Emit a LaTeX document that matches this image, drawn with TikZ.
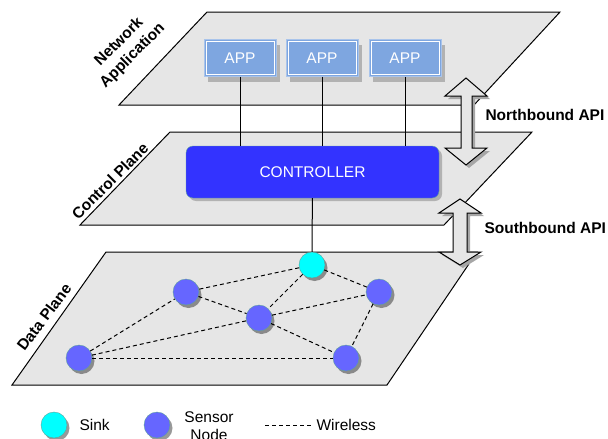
\documentclass[tikz,border=0pt]{standalone}
\usepackage{fontspec}
\setmainfont{Liberation Sans}
\usetikzlibrary{shadows}

\definecolor{planegray}{HTML}{E6E6E6}
\definecolor{appblue}{HTML}{7EA6E0}
\definecolor{appedge}{HTML}{A9C4EB}
\definecolor{ctrlblue}{HTML}{3333FF}
\definecolor{nodeblue}{HTML}{6666FF}
\definecolor{sinkcyan}{HTML}{00FFFF}
\definecolor{rim}{HTML}{5FA39B}

\begin{document}
\begin{tikzpicture}[x=1pt, y=-1pt, font=\fontsize{15.5}{18}\selectfont,
  plane/.style={fill=planegray, draw=black, line width=1pt},
  tag/.style={font=\fontsize{15.5}{19}\selectfont\bfseries, align=center},
  app/.style={draw=appedge, fill=appblue, text=white, line width=0.8pt,
    minimum width=72pt, minimum height=37pt,
    drop shadow={shadow xshift=4pt, shadow yshift=-5pt, fill=black!30, opacity=1},
    path picture={\draw[white, line width=0.8pt]
      ([shift={(2pt,-2pt)}]path picture bounding box.north west) rectangle
      ([shift={(-2pt,2pt)}]path picture bounding box.south east);}},
  ctrl/.style={draw=rim, fill=ctrlblue, text=white, rounded corners=7pt,
    minimum width=253pt, minimum height=52pt,
    drop shadow={shadow xshift=3pt, shadow yshift=-3pt, fill=black!30, opacity=1}},
  sensor/.style={circle, draw=rim, fill=nodeblue, minimum size=26pt, inner sep=0pt,
    drop shadow={shadow xshift=2.5pt, shadow yshift=-3pt, fill=black, opacity=0.4}},
  sink/.style={sensor, fill=sinkcyan},
  wireless/.style={dash pattern=on 4pt off 3pt, line width=1pt},
  api/.style={fill=planegray, draw=black, line width=1pt,
    drop shadow={shadow xshift=3pt, shadow yshift=-3pt, fill=black!35, opacity=1}}]
  \useasboundingbox (0,0) rectangle (608,439);

  % the three planes
  \draw[plane] (207,12) -- (560,12) -- (474,105) -- (119,105) -- cycle;
  \draw[plane] (170,132) -- (532,132) -- (444,225) -- (80,225) -- cycle;
  \draw[plane] (106,252) -- (477,252) -- (387,385) -- (12,385) -- cycle;

  \node[tag, rotate=45] (applabel) at (126,49) {Network\\Application};
  \node[tag, rotate=45] (ctrllabel) at (110,181) {Control Plane};
  \node[tag, rotate=53] (datalabel) at (44,317) {Data Plane};

  % applications and controller
  \node[app] (app1) at (240,58) {APP};
  \node[app] (app2) at (322,58) {APP};
  \node[app] (app3) at (405,58) {APP};
  \node[ctrl] (ctrl) at (312.5,172) {CONTROLLER};
  \draw[line width=1pt] (app1) -- (app1 |- ctrl.north);
  \draw[line width=1pt] (app2) -- (app2 |- ctrl.north);
  \draw[line width=1pt] (app3) -- (app3 |- ctrl.north);

  % sensor network
  \node[sink] (sink) at (312,265) {};
  \node[sensor] (n1) at (186,292) {};
  \node[sensor] (n2) at (259,318) {};
  \node[sensor] (n3) at (379,292) {};
  \node[sensor] (n4) at (79,358) {};
  \node[sensor] (n5) at (346,358) {};
  \draw[line width=1pt] (ctrl) -- (sink);
  \draw[wireless] (sink) -- (n1);
  \draw[wireless] (sink) -- (n2);
  \draw[wireless] (sink) -- (n3);
  \draw[wireless] (n1) -- (n2);
  \draw[wireless] (n2) -- (n3);
  \draw[wireless] (n2) -- (n5);
  \draw[wireless] (n3) -- (n5);
  \draw[wireless] (n4) -- (n1);
  \draw[wireless] (n4) -- (n2);
  \draw[wireless] (n4) -- (n5);

  % north- and southbound interfaces
  \draw[api] (466,78) -- (487,96) -- (472,96) -- (472,148) -- (487,148) -- (466,165)
    -- (445,148) -- (461,148) -- (461,96) -- (445,96) -- cycle;
  \draw[api] (460,199) -- (481,213) -- (467,213) -- (467,252) -- (481,252) -- (460,265)
    -- (439,252) -- (453,252) -- (453,213) -- (439,213) -- cycle;
  \node[tag, anchor=west] (north) at (482,115) {Northbound API};
  \node[tag, anchor=west] (south) at (481,228) {Southbound API};

  % legend
  \node[sink] (keysink) at (54,425) {};
  \node[anchor=west] (sinktext) at (76,425) {Sink};
  \node[sensor] (keysensor) at (157,425) {};
  \node[align=center] (sensortext) at (209,426) {Sensor\\Node};
  \coordinate (w1) at (265,425);
  \coordinate (w2) at (313,425);
  \draw[wireless] (w1) -- (w2);
  \node[anchor=west] (wiretext) at (313,425) {Wireless};
\end{tikzpicture}
\end{document}
